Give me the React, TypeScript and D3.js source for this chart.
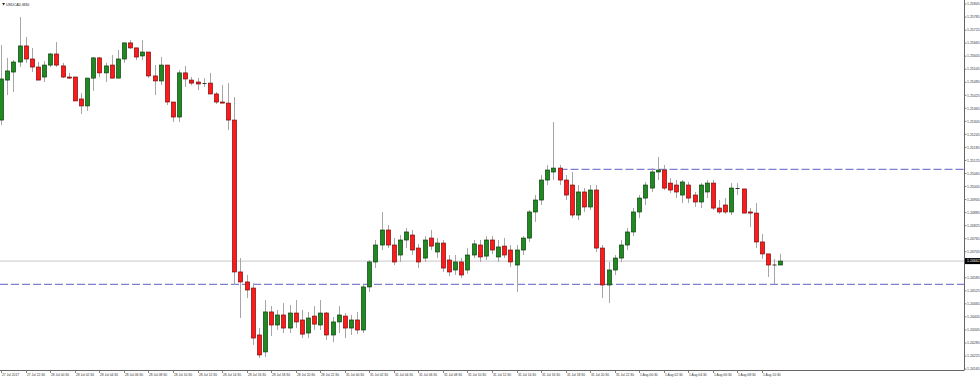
import React from "react";
import * as d3 from "d3";

const symbolTitle = "USDCAD,M30";

const opens = [1.25311,1.25495,1.25532,1.25578,1.25652,1.25592,1.25555,1.25509,1.25564,1.25615,1.25560,1.25509,1.25509,1.25408,1.25376,1.25504,1.25597,1.25528,1.25564,1.25504,1.25592,1.25666,1.25643,1.25606,1.25624,1.25514,1.25491,1.25564,1.25394,1.25325,1.25528,1.25495,1.25486,1.25477,1.25481,1.25431,1.25394,1.25389,1.25311,1.24612,1.24566,1.24538,1.24322,1.24244,1.24428,1.24368,1.24414,1.24354,1.24423,1.24391,1.24331,1.24409,1.24368,1.24423,1.24322,1.24382,1.24409,1.24354,1.24391,1.24345,1.24543,1.24658,1.24736,1.24805,1.24736,1.24690,1.24759,1.24782,1.24722,1.24676,1.24768,1.24704,1.24745,1.24667,1.24621,1.24658,1.24621,1.24690,1.24736,1.24685,1.24759,1.24681,1.24731,1.24713,1.24644,1.24713,1.24768,1.24888,1.24943,1.25035,1.25072,1.25090,1.25035,1.25012,1.24874,1.24980,1.24911,1.24989,1.24722,1.24552,1.24621,1.24676,1.24736,1.24796,1.24888,1.24952,1.24998,1.25072,1.25081,1.25021,1.25012,1.24966,1.25012,1.24966,1.24934,1.24980,1.25021,1.24906,1.24920,1.24888,1.24998,1.24994,1.24888,1.24883,1.24750,1.24695,1.24644,1.24644];
const highs = [1.25656,1.25597,1.25587,1.25785,1.25693,1.25643,1.25578,1.25583,1.25620,1.25670,1.25574,1.25528,1.25509,1.25435,1.25504,1.25601,1.25601,1.25574,1.25610,1.25633,1.25666,1.25679,1.25643,1.25679,1.25624,1.25564,1.25601,1.25564,1.25394,1.25541,1.25560,1.25509,1.25504,1.25504,1.25528,1.25440,1.25472,1.25481,1.25417,1.24676,1.24598,1.24561,1.24354,1.24483,1.24455,1.24437,1.24469,1.24460,1.24483,1.24437,1.24428,1.24455,1.24483,1.24428,1.24405,1.24455,1.24423,1.24414,1.24428,1.24552,1.24667,1.24759,1.24888,1.24828,1.24768,1.24782,1.24814,1.24805,1.24741,1.24777,1.24805,1.24768,1.24759,1.24690,1.24690,1.24676,1.24722,1.24759,1.24759,1.24777,1.24777,1.24759,1.24768,1.24736,1.24736,1.24777,1.24897,1.24966,1.25058,1.25104,1.25302,1.25104,1.25058,1.25072,1.25012,1.24998,1.25012,1.25012,1.24736,1.24658,1.24690,1.24759,1.24814,1.24906,1.24966,1.25026,1.25090,1.25141,1.25104,1.25044,1.25035,1.25035,1.25026,1.24980,1.25021,1.25035,1.25035,1.24943,1.24952,1.25021,1.25021,1.24994,1.24906,1.24929,1.24787,1.24695,1.24672,1.24695];
const lows = [1.25288,1.25426,1.25440,1.25555,1.25574,1.25532,1.25495,1.25486,1.25555,1.25555,1.25504,1.25500,1.25399,1.25339,1.25353,1.25445,1.25509,1.25486,1.25504,1.25504,1.25574,1.25638,1.25587,1.25587,1.25504,1.25426,1.25472,1.25380,1.25302,1.25302,1.25463,1.25472,1.25449,1.25463,1.25431,1.25385,1.25389,1.25265,1.24552,1.24400,1.24492,1.24276,1.24216,1.24220,1.24317,1.24345,1.24331,1.24331,1.24354,1.24308,1.24308,1.24345,1.24345,1.24299,1.24289,1.24331,1.24308,1.24322,1.24326,1.24331,1.24520,1.24630,1.24713,1.24722,1.24644,1.24658,1.24722,1.24690,1.24630,1.24658,1.24713,1.24676,1.24612,1.24593,1.24598,1.24584,1.24603,1.24676,1.24658,1.24667,1.24695,1.24658,1.24676,1.24635,1.24520,1.24690,1.24750,1.24842,1.24920,1.25012,1.25035,1.25012,1.24943,1.24860,1.24851,1.24888,1.24897,1.24704,1.24492,1.24469,1.24598,1.24658,1.24713,1.24777,1.24860,1.24920,1.24980,1.25035,1.24989,1.24975,1.24952,1.24929,1.24929,1.24911,1.24906,1.24952,1.24897,1.24879,1.24879,1.24874,1.24966,1.24883,1.24819,1.24722,1.24672,1.24589,1.24556,1.24644];
const closes = [1.25500,1.25537,1.25578,1.25652,1.25592,1.25555,1.25495,1.25564,1.25615,1.25564,1.25509,1.25504,1.25399,1.25376,1.25504,1.25597,1.25528,1.25560,1.25504,1.25592,1.25666,1.25643,1.25601,1.25624,1.25514,1.25491,1.25564,1.25394,1.25325,1.25528,1.25500,1.25481,1.25477,1.25481,1.25431,1.25394,1.25389,1.25311,1.24612,1.24566,1.24529,1.24308,1.24230,1.24428,1.24368,1.24414,1.24354,1.24423,1.24382,1.24326,1.24400,1.24372,1.24423,1.24322,1.24382,1.24414,1.24354,1.24391,1.24345,1.24543,1.24658,1.24736,1.24805,1.24736,1.24658,1.24759,1.24796,1.24713,1.24658,1.24759,1.24731,1.24745,1.24630,1.24612,1.24658,1.24598,1.24690,1.24741,1.24681,1.24759,1.24713,1.24727,1.24690,1.24658,1.24713,1.24768,1.24888,1.24943,1.25035,1.25081,1.25090,1.25035,1.24966,1.24874,1.24980,1.24911,1.24989,1.24722,1.24552,1.24621,1.24676,1.24736,1.24796,1.24888,1.24952,1.25012,1.25072,1.25081,1.24998,1.24989,1.24980,1.25026,1.24952,1.24934,1.25012,1.25021,1.24906,1.24888,1.24888,1.24998,1.24994,1.24883,1.24883,1.24750,1.24695,1.24644,1.24644,1.24662];

const priceTicks = [1.25845,1.25785,1.25725,1.25665,1.25605,1.25545,1.25485,1.25425,1.25365,1.25305,1.25245,1.25185,1.25125,1.25065,1.25005,1.24945,1.24885,1.24825,1.24765,1.24705,1.24645,1.24585,1.24525,1.24465,1.24405,1.24345,1.24285,1.24225,1.24165];

const timeTickLabels = ["27 Jul 2017","27 Jul 22:30","28 Jul 00:30","28 Jul 02:30","28 Jul 04:30","28 Jul 06:30","28 Jul 08:30","28 Jul 10:30","28 Jul 12:30","28 Jul 14:30","28 Jul 16:30","28 Jul 18:30","28 Jul 20:30","28 Jul 22:30","31 Jul 00:30","31 Jul 02:30","31 Jul 04:30","31 Jul 06:30","31 Jul 08:30","31 Jul 10:30","31 Jul 12:30","31 Jul 14:30","31 Jul 16:30","31 Jul 18:30","31 Jul 20:30","31 Jul 22:30","1 Aug 00:30","1 Aug 02:30","1 Aug 04:30","1 Aug 06:30","1 Aug 08:30","1 Aug 10:30"];
const timeTickEvery = 4;

const resistanceLevel = 1.25084;
const resistanceStartIndex = 91;
const supportLevel = 1.24555;

const W = 980, H = 378;
const plotRight = 964.5, plotBottom = 370;

export default function App() {
  const n = opens.length;
  const x = d3.scaleLinear().domain([0, n - 1]).range([1.2, 780.4]);
  const y = d3.scaleLinear().domain([1.24165, 1.25845]).range([369.1, 4]);
  const last = closes[n - 1];
  const lastY = y(last);
  const bodyW = 4;
  const font = "'Liberation Sans', Arial, sans-serif";

  return (
    <svg width={W} height={H} style={{ position: "absolute", left: 0, top: 0, background: "#fff" }}>
      <defs>
        <clipPath id="plot"><rect x={0} y={0} width={plotRight} height={plotBottom} /></clipPath>
      </defs>
      <rect x={0} y={0} width={W} height={H} fill="#fff" />
      <g clipPath="url(#plot)">
        <line x1={0} x2={plotRight} y1={lastY} y2={lastY} stroke="#c8c8c8" strokeWidth={1} />
        <line x1={0} x2={plotRight} y1={y(supportLevel)} y2={y(supportLevel)} stroke="#7f7fcf" strokeWidth={1.2} strokeDasharray="8,3" />
        <line x1={x(resistanceStartIndex)} x2={plotRight} y1={y(resistanceLevel)} y2={y(resistanceLevel)} stroke="#7f7fcf" strokeWidth={1.2} strokeDasharray="8,3" />
        {opens.map((o, i) => {
          const c = closes[i];
          const cx = Math.round(x(i)) + 0.5;
          const up = c > o;
          const top = y(Math.max(o, c));
          const bot = y(Math.min(o, c));
          const doji = Math.abs(bot - top) < 1;
          return (
            <g key={i}>
              <line x1={cx} x2={cx} y1={y(highs[i])} y2={y(lows[i])} stroke="#a6a6a6" strokeWidth={1} />
              {doji ? (
                <line x1={cx - bodyW / 2} x2={cx + bodyW / 2} y1={(top + bot) / 2} y2={(top + bot) / 2} stroke="#333" strokeWidth={1} />
              ) : (
                <rect x={cx - bodyW / 2} y={top} width={bodyW} height={bot - top}
                  fill={up ? "#1f8a1f" : "#ff1a1a"} stroke={up ? "#0c3f0c" : "#7a0a0a"} strokeWidth={0.7} />
              )}
            </g>
          );
        })}
      </g>
      {/* title */}
      <path d="M2.2,3 L5,3 L3.6,5.4 Z" fill="#222" />
      <text x={6} y={5.6} fontSize={3.6} fontFamily={font} fill="#222">{symbolTitle}</text>
      {/* axes */}
      <line x1={plotRight} x2={plotRight} y1={0} y2={plotBottom} stroke="#666" strokeWidth={1} />
      <line x1={0} x2={plotRight} y1={plotBottom + 0.5} y2={plotBottom + 0.5} stroke="#666" strokeWidth={1} />
      {priceTicks.map((p, i) => {
        const ty = y(p);
        if (Math.abs(ty - lastY) < 5) return null;
        return (
          <g key={"p" + i}>
            <line x1={plotRight} x2={plotRight + 2} y1={ty} y2={ty} stroke="#666" strokeWidth={0.8} />
            <text x={967} y={ty} dy="0.35em" fontSize={3.5} fontFamily={font} fill="#333">{p.toFixed(5)}</text>
          </g>
        );
      })}
      <rect x={965} y={lastY - 3} width={15} height={6} fill="#000" />
      <text x={967} y={lastY} dy="0.35em" fontSize={3.5} fontFamily={font} fill="#fff">{last.toFixed(5)}</text>
      {timeTickLabels.map((t, k) => {
        const tx = Math.round(x(k * timeTickEvery)) + 0.5;
        return (
          <g key={"t" + k}>
            <line x1={tx} x2={tx} y1={plotBottom + 0.5} y2={plotBottom + 3} stroke="#666" strokeWidth={0.8} />
            <text x={tx + 0.5} y={375.5} fontSize={3.3} fontFamily={font} fill="#333">{t}</text>
          </g>
        );
      })}
    </svg>
  );
}
